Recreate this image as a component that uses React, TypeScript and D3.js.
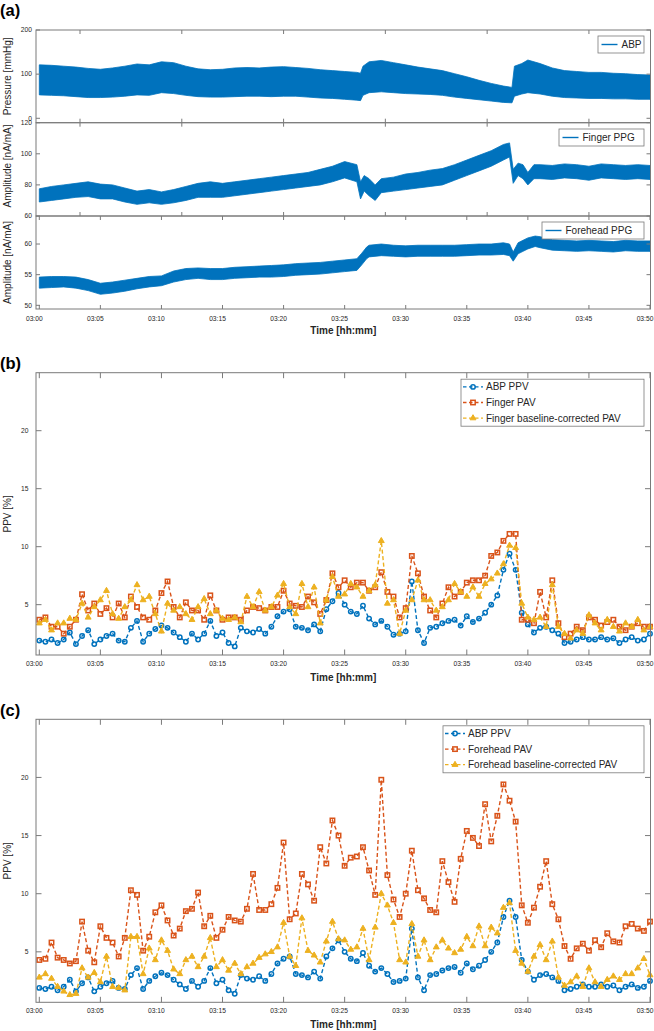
import React from 'react';
import * as d3 from 'd3';

const BLUE = '#0072BD';
const ORANGE = '#D95319';
const YELLOW = '#EDB120';
const AXIS = '#7a7a7a';
const TXT = '#262626';
const FONT = '"Liberation Sans", Arial, sans-serif';

// time axis (minutes after 03:00)
const timeTicks = [0, 5, 10, 15, 20, 25, 30, 35, 40, 45, 50];
const timeLabels = ['03:00', '03:05', '03:10', '03:15', '03:20', '03:25', '03:30', '03:35', '03:40', '03:45', '03:50'];
// the two upper waveform axes carry their own (unlabelled) ticks
const rawTicks = [3.333, 11.667, 20, 28.333, 36.667, 45];

// ---- panel (a): envelopes of the raw waveforms ----
const abpT = [0, 1, 2, 3, 4, 5, 6, 7, 8, 9, 10, 11, 12, 13, 14, 15, 16, 17, 18, 19, 20, 21, 22, 23, 24, 25, 26, 26.3, 26.5, 27, 28, 29, 30, 31, 32, 33, 34, 35, 36, 37, 38, 38.7, 38.9, 39.5, 40, 41, 42, 43, 44, 45, 46, 47, 48, 49, 50];
const abpHi = [121, 120, 118, 116, 113, 111, 114, 118, 123, 121, 128, 126, 118, 112, 110, 111, 114, 115, 114, 116, 117, 115, 113, 110, 108, 106, 104, 102, 118, 128, 131, 126, 121, 116, 112, 108, 101, 94, 86, 79, 73, 70, 118, 124, 132, 124, 114, 108, 106, 104, 104, 102, 101, 99, 98];
const abpLo = [53, 52, 51, 49, 47, 47, 48, 50, 53, 52, 58, 56, 52, 49, 48, 48, 49, 50, 50, 49, 50, 50, 48, 46, 45, 43, 41, 40, 52, 58, 60, 58, 56, 55, 54, 52, 48, 45, 42, 39, 36, 35, 50, 55, 58, 55, 50, 47, 46, 45, 45, 44, 44, 43, 43];

const fingerT = [0, 1, 2, 3, 4, 5, 6, 7, 8, 9, 10, 11, 12, 13, 14, 15, 16, 17, 18, 19, 20, 21, 22, 23, 24, 25, 26, 26.3, 26.6, 27, 27.5, 28, 29, 30, 31, 32, 33, 34, 35, 36, 37, 38, 38.5, 38.8, 39.2, 39.6, 40, 40.5, 41, 42, 43, 44, 45, 46, 47, 48, 49, 50];
const fingerHi = [77.5, 79, 80, 81, 82, 80.5, 80, 78, 76, 77, 75.5, 77, 79, 81, 82, 81, 82, 83, 84, 85, 86, 87, 88, 90, 92, 95, 93, 82, 86, 84, 80, 84, 85, 87, 88, 89.5, 90.5, 93, 96, 99, 102, 106, 107, 90, 94, 93, 88, 93, 93, 92.5, 93.5, 93, 92, 93.5, 93, 92.5, 93, 92.5];
const fingerLo = [69, 70, 71, 72, 72.5, 71, 71, 69, 67.5, 68.5, 67.5, 68.5, 70, 72, 72, 72, 73, 74, 75, 76, 77, 78, 79, 80, 82, 84.5, 82, 71, 76, 73, 70, 75, 76, 77, 78, 79, 80, 83, 86, 89, 92, 96, 98, 81, 86, 84, 80, 84, 84, 83.5, 84.5, 84, 83, 84.5, 84, 83.5, 84, 83.5];

const foreheadT = [0, 1, 2, 3, 4, 5, 6, 7, 8, 9, 10, 11, 12, 13, 14, 15, 16, 17, 18, 19, 20, 21, 22, 23, 24, 25, 26, 26.4, 26.8, 27, 28, 29, 30, 31, 32, 33, 34, 35, 36, 37, 38, 38.5, 38.8, 39.2, 39.6, 40, 40.6, 41, 42, 43, 44, 45, 46, 47, 48, 49, 50];
const foreheadHi = [54.6, 54.7, 54.7, 54.6, 54.2, 53.6, 53.8, 54.1, 54.4, 54.7, 54.8, 55.6, 56, 56.1, 56, 56, 56.2, 56.3, 56.4, 56.5, 56.6, 56.8, 56.9, 57, 57.2, 57.4, 57.6, 58.5, 59.5, 59.8, 60, 59.8, 59.7, 59.8, 59.8, 59.8, 59.8, 59.9, 60, 60, 60.2, 60, 58.7, 60.2, 60.6, 61, 61.3, 61.2, 60.7, 60.6, 60.5, 60.6, 60.5, 60.4, 60.6, 60.5, 60.5];
const foreheadLo = [52.8, 52.9, 53.0, 52.8, 52.4, 51.8, 52.0, 52.3, 52.7, 53.0, 53.2, 53.8, 54.2, 54.4, 54.2, 54.2, 54.4, 54.5, 54.6, 54.6, 54.7, 54.9, 55.0, 55.1, 55.3, 55.5, 55.7, 56.6, 57.6, 57.9, 58.1, 58.0, 57.9, 58.0, 58.0, 58.0, 58.0, 58.1, 58.2, 58.2, 58.3, 58.1, 57.2, 58.4, 58.8, 59.2, 59.6, 59.4, 59.0, 58.9, 58.8, 58.9, 58.8, 58.7, 58.9, 58.8, 58.8];

// ---- panels (b) and (c): variation indices, one value per 30 s ----
const ppvTime = d3.range(101).map((i) => i * 0.5);
const abpPpv = [
  1.9, 1.8, 2.0, 1.7, 2.0, 2.6, 1.6, 2.3, 2.8, 1.6,
  2.0, 2.3, 2.5, 1.9, 1.8, 3.0, 3.6, 1.8, 2.5, 2.9,
  3.2, 3.0, 2.6, 2.2, 1.8, 2.5, 2.0, 2.5, 3.6, 2.3,
  2.6, 1.7, 1.4, 3.0, 2.7, 2.6, 2.9, 2.5, 3.1, 4.0,
  4.4, 4.6, 3.1, 3.0, 2.8, 3.3, 2.7, 4.6, 5.3, 6.0,
  5.0, 4.4, 4.2, 4.9, 3.8, 3.3, 3.6, 3.1, 2.4, 2.5,
  2.7, 7.0, 2.8, 1.7, 3.0, 3.1, 3.4, 3.6, 3.7, 3.2,
  4.0, 3.5, 3.8, 4.3, 5.0, 5.8, 8.0, 9.4, 8.0, 4.3,
  3.3, 2.6, 3.0, 3.1, 2.8, 2.5, 1.7, 1.8, 2.0, 2.2,
  2.0, 2.0, 2.2, 2.0, 2.1, 1.7, 2.0, 2.2, 1.9, 2.0,
  2.5];
const fingerPav = [
  3.7, 3.9, 3.1, 3.1, 2.5, 3.1, 3.7, 5.9, 4.5, 5.1,
  4.2, 4.7, 3.9, 5.1, 3.9, 5.7, 4.8, 3.9, 3.7, 4.5,
  6.0, 7.0, 4.8, 3.9, 5.2, 4.5, 4.5, 3.7, 5.8, 4.5,
  3.7, 3.9, 3.9, 3.7, 4.5, 4.8, 4.7, 4.5, 4.8, 4.8,
  6.2, 5.1, 4.9, 4.8, 5.7, 5.2, 4.2, 5.4, 7.7, 6.5,
  7.1, 6.5, 6.9, 6.9, 6.2, 6.5, 7.8, 6.1, 5.7, 3.9,
  4.7, 9.2, 7.7, 5.7, 4.5, 3.9, 5.1, 6.5, 5.7, 6.1,
  6.9, 7.1, 7.1, 7.5, 9.2, 9.5, 10.5, 11.1, 11.1, 3.7,
  3.7, 3.4, 6.1, 3.9, 7.1, 3.4, 2.2, 2.5, 3.1, 2.8,
  3.9, 3.7, 3.2, 3.5, 3.7, 3.1, 2.8, 3.1, 3.4, 3.1,
  3.1];
const fingerBcPav = [
  3.4, 3.7, 2.8, 3.4, 3.4, 3.8, 3.7, 5.1, 3.9, 4.8,
  5.4, 6.2, 4.2, 3.8, 4.8, 5.4, 6.7, 5.4, 5.7, 4.2,
  2.7, 5.1, 4.5, 4.8, 4.2, 3.7, 4.8, 5.5, 4.2, 4.5,
  3.8, 3.7, 3.9, 3.5, 5.7, 4.8, 6.1, 4.5, 4.8, 5.8,
  6.8, 4.8, 4.2, 6.8, 4.8, 6.5, 3.4, 5.4, 7.4, 5.7,
  5.9, 6.8, 6.5, 5.7, 6.2, 6.7, 10.5, 5.1, 5.4, 2.5,
  4.5, 5.4, 7.1, 5.4, 5.4, 4.5, 4.8, 5.4, 6.8, 6.1,
  5.7, 6.5, 5.7, 6.8, 7.2, 7.7, 8.5, 10.1, 9.9, 5.1,
  3.9, 3.7, 3.9, 3.1, 6.7, 3.1, 2.5, 2.1, 2.8, 2.5,
  4.1, 3.4, 2.8, 3.7, 3.1, 2.7, 3.4, 3.1, 3.7, 2.8,
  3.1];
const foreheadPav = [
  4.3, 4.4, 5.8, 4.5, 4.3, 4.0, 4.2, 7.6, 5.1, 4.1,
  7.2, 6.2, 5.8, 4.6, 6.2, 10.3, 9.9, 5.1, 6.3, 8.4,
  9.0, 7.7, 6.4, 7.0, 8.5, 8.7, 10.1, 7.2, 8.1, 6.2,
  6.9, 8.0, 7.7, 7.6, 8.7, 11.7, 8.6, 8.6, 9.1, 10.5,
  14.4, 7.8, 8.3, 11.7, 10.8, 9.4, 14.0, 12.6, 16.3, 15.0,
  12.4, 13.1, 13.2, 14.0, 12.0, 9.9, 19.8, 11.6, 9.5, 8.0,
  10.0, 13.7, 10.3, 9.6, 8.6, 8.4, 12.8, 11.0, 9.3, 13.0,
  15.4, 14.8, 14.1, 17.7, 14.5, 16.7, 19.4, 18.0, 16.2, 9.0,
  7.5, 8.8, 10.6, 12.8, 9.1, 7.8, 5.5, 4.4, 5.3, 5.7,
  5.1, 6.0, 5.4, 6.6, 5.9, 5.8, 7.2, 7.4, 7.0, 6.8,
  7.6];
const foreheadBcPav = [
  2.8, 3.1, 2.7, 2.0, 1.6, 1.3, 1.4, 3.6, 2.8, 3.2,
  2.4, 4.6, 2.0, 1.9, 1.7, 6.3, 6.3, 3.1, 5.3, 4.3,
  6.0, 5.1, 3.5, 3.1, 4.3, 4.6, 3.7, 4.6, 6.2, 3.7,
  4.3, 3.4, 4.0, 3.1, 3.7, 4.0, 4.5, 4.8, 5.0, 5.4,
  7.5, 4.6, 3.8, 7.9, 5.1, 4.7, 4.1, 5.9, 7.6, 6.1,
  6.0, 5.2, 5.4, 7.0, 4.3, 7.1, 10.0, 9.0, 7.5, 4.3,
  4.1, 7.4, 4.6, 6.0, 4.3, 5.4, 6.0, 5.3, 4.9, 5.2,
  6.3, 5.5, 7.2, 5.5, 7.1, 6.6, 8.8, 9.2, 5.1, 4.0,
  3.3, 4.6, 5.6, 4.3, 5.9, 2.8, 2.1, 2.4, 2.9, 2.0,
  3.6, 2.4, 2.0, 2.6, 2.9, 2.6, 3.1, 3.1, 3.6, 4.4,
  3.0];

const legendB = ['ABP PPV', 'Finger PAV', 'Finger baseline-corrected PAV'];
const legendC = ['ABP PPV', 'Forehead PAV', 'Forehead baseline-corrected PAV'];

// ---- layout ----
const X0 = 36;
const X1 = 650.5;
const x = d3.scaleLinear().domain([0, 50]).range([39.3, 650]);
const LABEL_SHIFT = -5; // time labels sit a little left of their ticks in the original

type FrameProps = {
  top: number;
  bottom: number;
  y: d3.ScaleLinear<number, number>;
  yTicks: number[];
  xTicks: number[];
  tickLen: number;
  labelRight: number;
};

function Frame({ top, bottom, y, yTicks, xTicks, tickLen, labelRight }: FrameProps) {
  return (
    <g>
      <rect x={X0} y={top} width={X1 - X0} height={bottom - top} fill="none" stroke={AXIS} strokeWidth={1} />
      {xTicks.map((t) => (
        <g key={'x' + t} stroke={AXIS} strokeWidth={1}>
          <line x1={x(t)} x2={x(t)} y1={top} y2={top + tickLen} />
          <line x1={x(t)} x2={x(t)} y1={bottom} y2={bottom - tickLen} />
        </g>
      ))}
      {yTicks.map((v) => (
        <g key={'y' + v}>
          <line x1={X0} x2={X0 + tickLen} y1={y(v)} y2={y(v)} stroke={AXIS} />
          <line x1={X1} x2={X1 - tickLen} y1={y(v)} y2={y(v)} stroke={AXIS} />
          <text x={labelRight} y={y(v)} dy="0.35em" textAnchor="end" fontSize={6.7} fill={TXT}>{v}</text>
        </g>
      ))}
    </g>
  );
}

function TimeLabels({ base, titleY }: { base: number; titleY: number }) {
  return (
    <g>
      {timeTicks.map((t, i) => (
        <text key={t} x={x(t) + LABEL_SHIFT} y={base} textAnchor="middle" fontSize={6.7} fill={TXT}>{timeLabels[i]}</text>
      ))}
      <text x={(X0 + X1) / 2} y={titleY} textAnchor="middle" fontSize={10} fontWeight="bold" fill={TXT}>Time [hh:mm]</text>
    </g>
  );
}

function YTitle({ cy, text }: { cy: number; text: string }) {
  return (
    <text transform={`translate(11,${cy}) rotate(-90)`} textAnchor="middle" fontSize={10} fill={TXT}>{text}</text>
  );
}

function Envelope({ t, hi, lo, y }: { t: number[]; hi: number[]; lo: number[]; y: d3.ScaleLinear<number, number> }) {
  const area = d3.area<number>()
    .x((_, i) => x(t[i]))
    .y0((_, i) => y(lo[i]))
    .y1((_, i) => y(hi[i]));
  return <path d={area(t) || ''} fill={BLUE} stroke={BLUE} strokeWidth={0.8} />;
}

function WaveLegend({ x0, y0, x1, label }: { x0: number; y0: number; x1: number; label: string }) {
  return (
    <g>
      <rect x={x0} y={y0} width={x1 - x0} height={17} fill="#fff" stroke={AXIS} strokeWidth={0.8} />
      <line x1={x0 + 3.5} x2={x0 + 19.5} y1={y0 + 8.5} y2={y0 + 8.5} stroke={BLUE} strokeWidth={1.4} />
      <text x={x0 + 23.5} y={y0 + 8.5} dy="0.35em" fontSize={10} fill={TXT}>{label}</text>
    </g>
  );
}

type Marker = 'o' | 's' | '^';

function MarkerShape({ kind, cx, cy, color }: { kind: Marker; cx: number; cy: number; color: string }) {
  if (kind === 'o') return <circle cx={cx} cy={cy} r={2.2} fill="none" stroke={color} strokeWidth={1.5} />;
  if (kind === 's') return <rect x={cx - 2.2} y={cy - 2.2} width={4.4} height={4.4} fill="none" stroke={color} strokeWidth={1.5} />;
  const tri = d3.symbol().type(d3.symbolTriangle).size(15)();
  return <path d={tri || ''} transform={`translate(${cx},${cy})`} fill={color} stroke={color} strokeWidth={1} />;
}

function Series({ values, y, color, kind }: { values: number[]; y: d3.ScaleLinear<number, number>; color: string; kind: Marker }) {
  const line = d3.line<number>()
    .x((_, i) => x(ppvTime[i]))
    .y((d) => y(d));
  return (
    <g>
      <path d={line(values) || ''} fill="none" stroke={color} strokeWidth={1.4} strokeDasharray="4,2.5" />
      {values.map((v, i) => (
        <MarkerShape key={i} kind={kind} cx={x(ppvTime[i])} cy={y(v)} color={color} />
      ))}
    </g>
  );
}

function PpvLegend({ x0, y0, x1, labels, sampleW }: { x0: number; y0: number; x1: number; labels: string[]; sampleW: number }) {
  const kinds: Marker[] = ['o', 's', '^'];
  const colors = [BLUE, ORANGE, YELLOW];
  return (
    <g>
      <rect x={x0} y={y0} width={x1 - x0} height={47} fill="#fff" stroke={AXIS} strokeWidth={0.8} />
      {labels.map((lab, i) => {
        const cy = y0 + 7.7 + i * 15.6;
        return (
          <g key={lab}>
            <line x1={x0 + 2} x2={x0 + 2 + sampleW} y1={cy} y2={cy} stroke={colors[i]} strokeWidth={1.3} strokeDasharray="3.5,2.5" />
            <MarkerShape kind={kinds[i]} cx={x0 + 2 + sampleW / 2} cy={cy} color={colors[i]} />
            <text x={x0 + sampleW + 5} y={cy} dy="0.35em" fontSize={10} fill={TXT}>{lab}</text>
          </g>
        );
      })}
    </g>
  );
}

function PpvPanel({ top, bottom, series2, series3, legend, legendX0 }: {
  top: number; bottom: number; series2: number[]; series3: number[]; legend: string[]; legendX0: number;
}) {
  const y = d3.scaleLinear().domain([0.66, 25]).range([bottom, top]);
  return (
    <g>
      <Series values={abpPpv} y={y} color={BLUE} kind="o" />
      <Series values={series2} y={y} color={ORANGE} kind="s" />
      <Series values={series3} y={y} color={YELLOW} kind="^" />
      <Frame top={top} bottom={bottom} y={y} yTicks={[5, 10, 15, 20]} xTicks={timeTicks} tickLen={5.5} labelRight={28.5} />
      <PpvLegend x0={legendX0} y0={top + 6.5} x1={644} labels={legend} sampleW={20} />
      <TimeLabels base={bottom + 10.5} titleY={bottom + 26} />
      <YTitle cy={(top + bottom) / 2} text="PPV [%]" />
    </g>
  );
}

export default function App() {
  const y1 = d3.scaleLinear().domain([-10, 200]).range([122.7, 30]);
  const y2 = d3.scaleLinear().domain([60, 120]).range([216, 122.7]);
  const y3 = d3.scaleLinear().domain([49.4, 64.57]).range([309, 216]);

  return (
    <svg width={654} height={1031} style={{ position: 'absolute', left: 0, top: 0, background: '#fff' }} fontFamily={FONT}>
      <rect width={654} height={1031} fill="#fff" />
      {/* (a) raw waveforms */}
      <text x={0} y={16} fontSize={16.5} fontWeight="bold" fill="#000">(a)</text>
      <Envelope t={abpT} hi={abpHi} lo={abpLo} y={y1} />
      <Envelope t={fingerT} hi={fingerHi} lo={fingerLo} y={y2} />
      <Envelope t={foreheadT} hi={foreheadHi} lo={foreheadLo} y={y3} />
      <Frame top={30} bottom={122.7} y={y1} yTicks={[0, 100, 200]} xTicks={rawTicks} tickLen={4} labelRight={32} />
      <Frame top={122.7} bottom={216} y={y2} yTicks={[60, 80, 100, 120]} xTicks={rawTicks} tickLen={4} labelRight={32} />
      <Frame top={216} bottom={309} y={y3} yTicks={[50, 55, 60]} xTicks={timeTicks} tickLen={4} labelRight={32} />
      <WaveLegend x0={598} y0={36} x1={644} label="ABP" />
      <WaveLegend x0={559} y0={129} x1={644} label="Finger PPG" />
      <WaveLegend x0={542} y0={222} x1={644} label="Forehead PPG" />
      <YTitle cy={76.3} text="Pressure [mmHg]" />
      <YTitle cy={166} text="Amplitude [nA/mA]" />
      <YTitle cy={262.5} text="Amplitude [nA/mA]" />
      <TimeLabels base={320.7} titleY={334} />

      {/* (b) finger */}
      <text x={0} y={369} fontSize={16.5} fontWeight="bold" fill="#000">(b)</text>
      <PpvPanel top={372.7} bottom={655} series2={fingerPav} series3={fingerBcPav} legend={legendB} legendX0={461} />

      {/* (c) forehead */}
      <text x={0} y={716} fontSize={16.5} fontWeight="bold" fill="#000">(c)</text>
      <PpvPanel top={719.3} bottom={1002.3} series2={foreheadPav} series3={foreheadBcPav} legend={legendC} legendX0={443} />
    </svg>
  );
}
